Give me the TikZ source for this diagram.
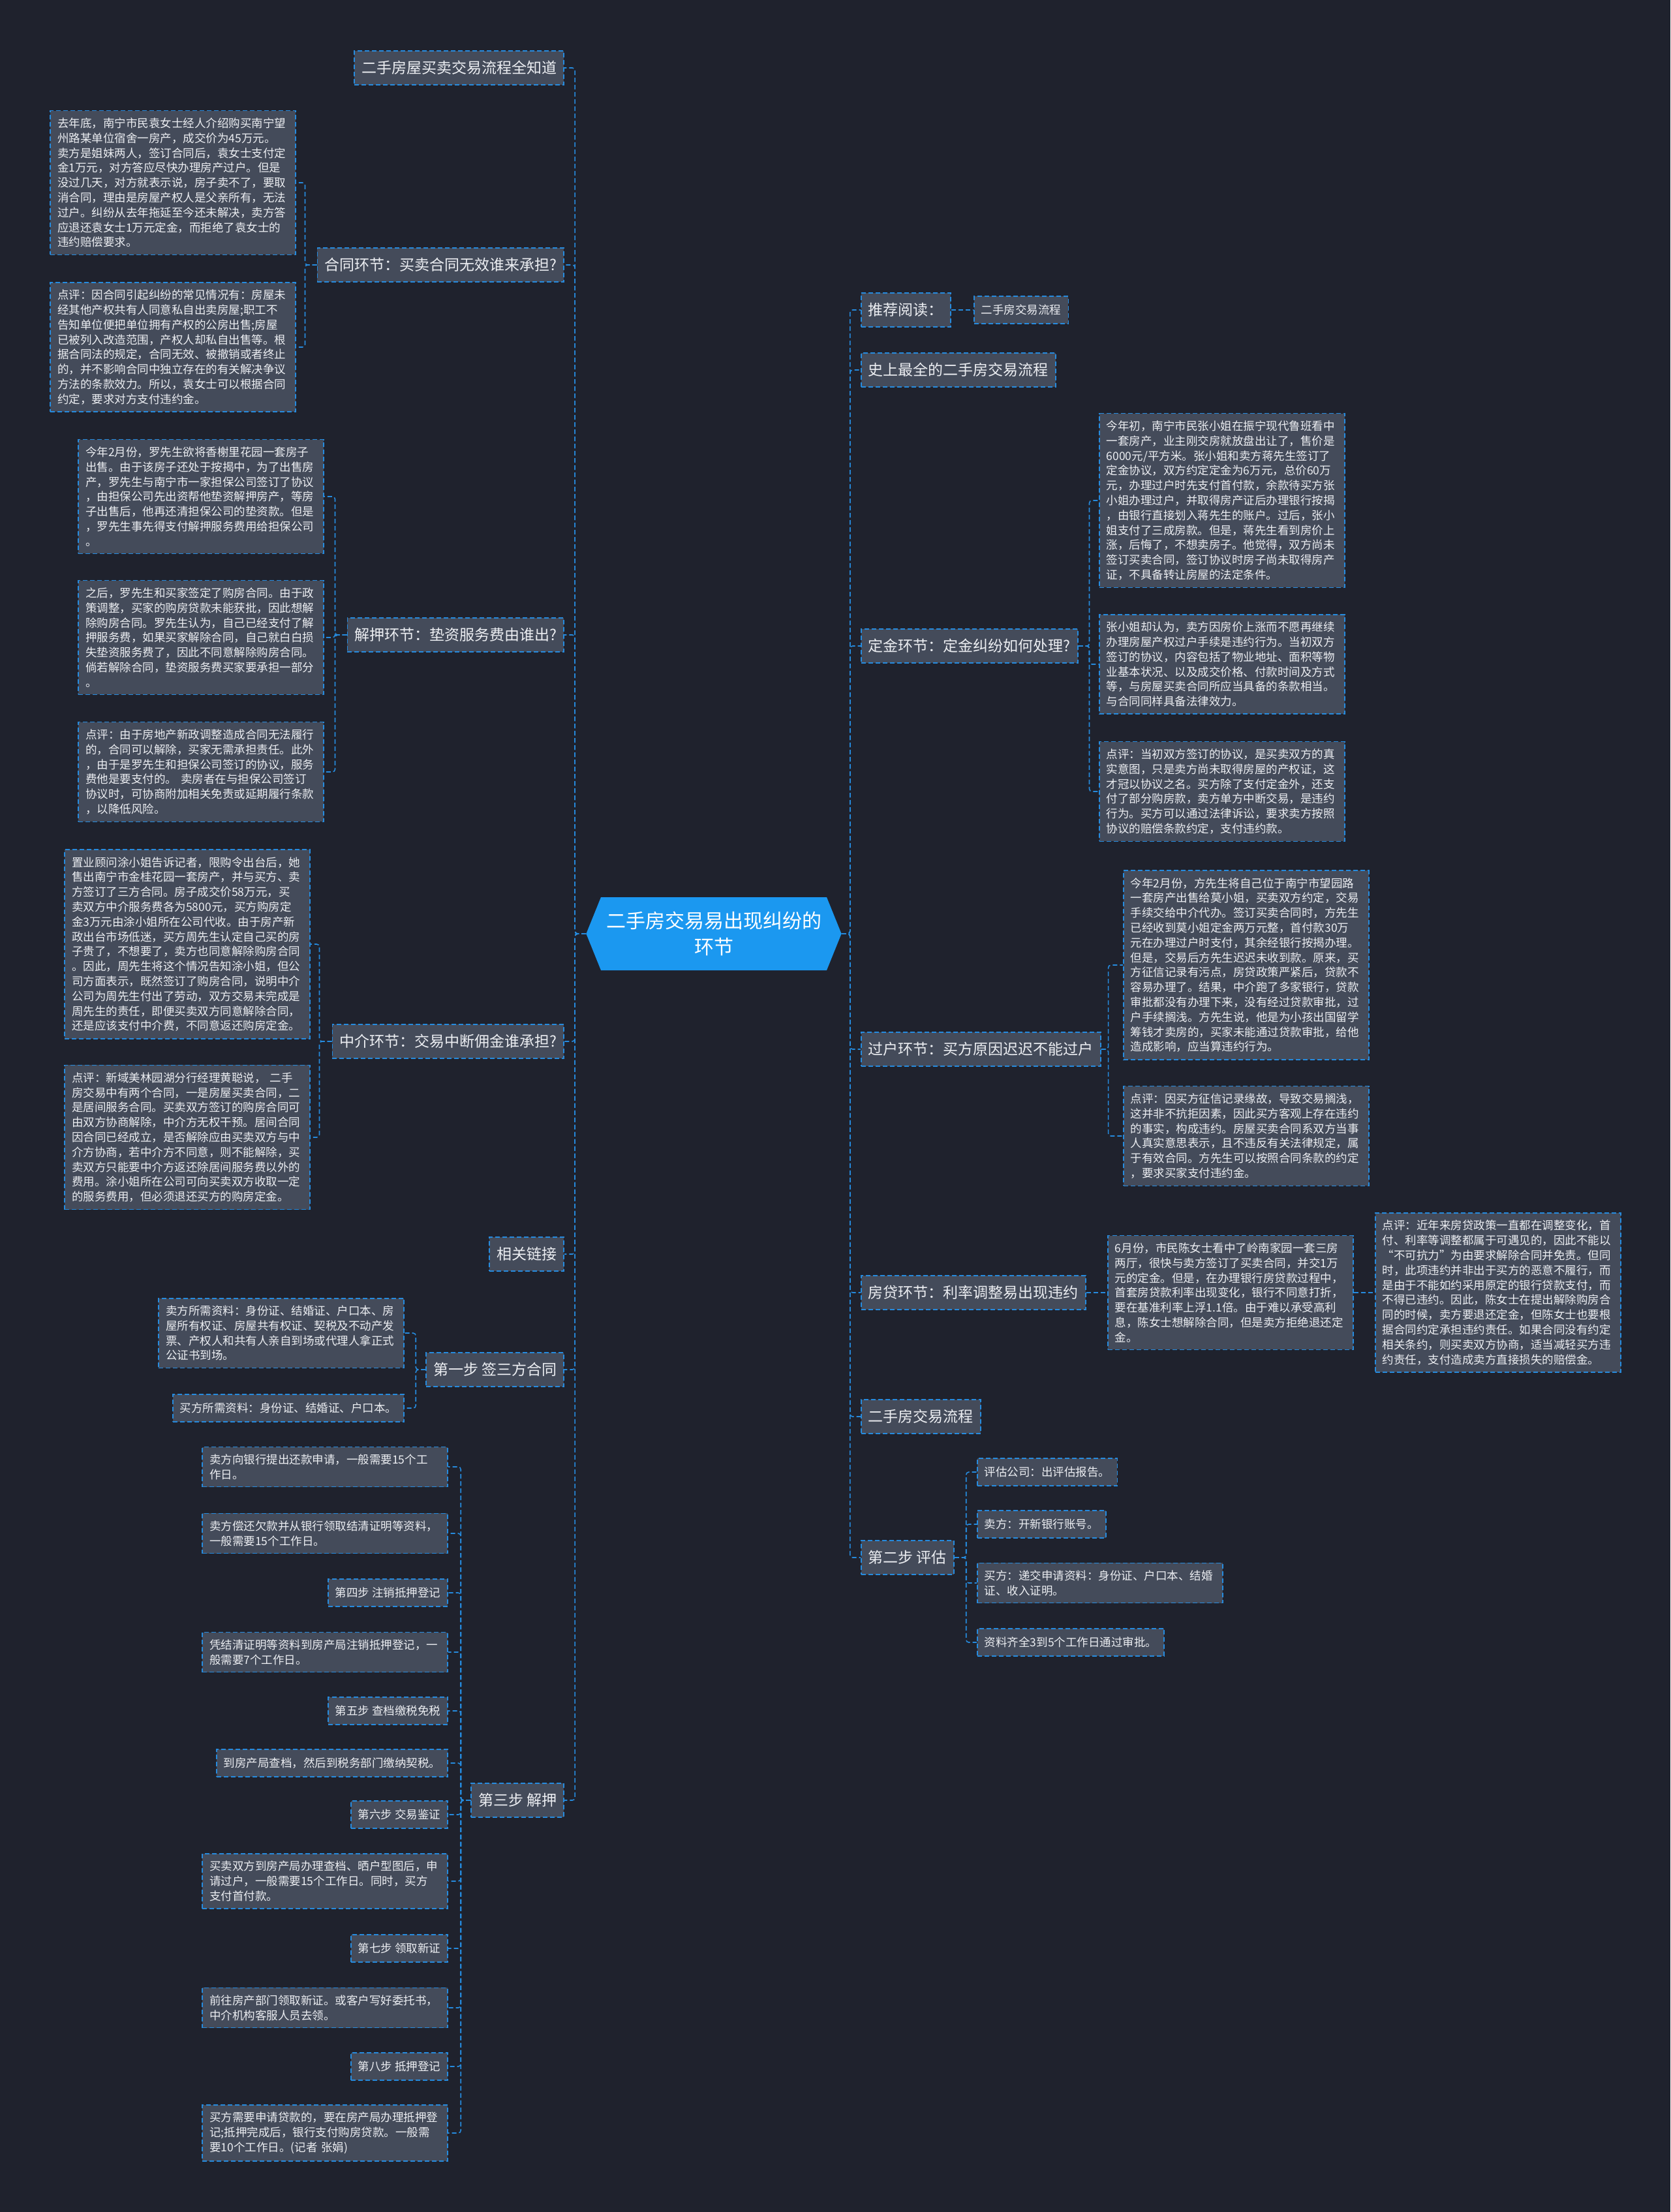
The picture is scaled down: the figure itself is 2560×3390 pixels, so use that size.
\documentclass[tikz,border=0pt]{standalone}
\usepackage{fontspec}
\setmainfont{Noto Sans CJK SC}
\usepackage{tikz}
\usetikzlibrary{positioning, shapes.symbols}
\usepackage{xcolor}
\definecolor{bgdark}{RGB}{31, 34, 45}
\definecolor{boxgray}{RGB}{68, 75, 90}
\definecolor{edgeblue}{RGB}{38, 139, 222}
\definecolor{hubblue}{RGB}{27, 152, 240}
\definecolor{inkwhite}{RGB}{236, 238, 242}

\begin{document}
\begin{tikzpicture}[x=1pt, y=-1pt,
    hub/.style={signal, signal to=west and east, signal pointer angle=136, fill=hubblue, text=white, align=center, inner xsep=8pt, inner ysep=12pt, minimum height=112pt, font=\fontsize{30}{40}\selectfont},
    box/.style={rectangle, draw=edgeblue, fill=boxgray, dash pattern=on 7pt off 4pt, line width=1.6pt, text=inkwhite, inner xsep=11pt},
    topic/.style={box, minimum height=52pt, font=\fontsize{23}{28}\selectfont},
    leaf/.style={box, inner ysep=11pt, text width=354pt, align=left, font=\fontsize{17.5}{22.8}\selectfont},
    tag/.style={box, minimum height=42pt, font=\fontsize{17.5}{22.8}\selectfont},
    link/.style={draw=edgeblue, dash pattern=on 7pt off 4pt, line width=1.6pt, rounded corners=4pt}
]
    \useasboundingbox[fill=bgdark] (0, 0) rectangle (2560, 3390);

    % Centre
    \node[hub] (root) at (1094, 1431) {二手房交易易出现纠纷的\\环节};

    % Left topics
    \node[topic, anchor=east] (know) at (865, 104) {二手房屋买卖交易流程全知道};
    \node[topic, anchor=east] (hetong) at (865, 406) {合同环节：买卖合同无效谁来承担?};
    \node[topic, anchor=east] (jieya) at (865, 973) {解押环节：垫资服务费由谁出?};
    \node[topic, anchor=east] (zhongjie) at (865, 1596) {中介环节：交易中断佣金谁承担?};
    \node[topic, anchor=east] (xglj) at (865, 1922) {相关链接};
    \node[topic, anchor=east] (step1) at (865, 2099) {第一步 签三方合同};
    \node[topic, anchor=east] (step3) at (865, 2759) {第三步 解押};

    % Right topics
    \node[topic, anchor=west] (tuijian) at (1319, 475) {推荐阅读：};
    \node[topic, anchor=west] (shishang) at (1319, 567) {史上最全的二手房交易流程};
    \node[topic, anchor=west] (dingjin) at (1319, 990) {定金环节：定金纠纷如何处理?};
    \node[topic, anchor=west] (guohu) at (1319, 1608) {过户环节：买方原因迟迟不能过户};
    \node[topic, anchor=west] (fangdai) at (1319, 1981) {房贷环节：利率调整易出现违约};
    \node[topic, anchor=west] (liucheng) at (1319, 2171) {二手房交易流程};
    \node[topic, anchor=west] (step2) at (1319, 2387) {第二步 评估};

    % Contract leaves
    \node[leaf, anchor=east] (ht1) at (454, 280) {去年底，南宁市民袁女士经人介绍购买南宁望\\州路某单位宿舍一房产，成交价为45万元。\\卖方是姐妹两人，签订合同后，袁女士支付定\\金1万元，对方答应尽快办理房产过户。但是\\没过几天，对方就表示说，房子卖不了，要取\\消合同，理由是房屋产权人是父亲所有，无法\\过户。纠纷从去年拖延至今还未解决，卖方答\\应退还袁女士1万元定金，而拒绝了袁女士的\\违约赔偿要求。};
    \node[leaf, anchor=east] (ht2) at (454, 532) {点评：因合同引起纠纷的常见情况有：房屋未\\经其他产权共有人同意私自出卖房屋;职工不\\告知单位便把单位拥有产权的公房出售;房屋\\已被列入改造范围，产权人却私自出售等。根\\据合同法的规定，合同无效、被撤销或者终止\\的，并不影响合同中独立存在的有关解决争议\\方法的条款效力。所以，袁女士可以根据合同\\约定，要求对方支付违约金。};

    % Mortgage release leaves
    \node[leaf, anchor=east] (jy1) at (497, 761) {今年2月份，罗先生欲将香榭里花园一套房子\\出售。由于该房子还处于按揭中，为了出售房\\产，罗先生与南宁市一家担保公司签订了协议\\，由担保公司先出资帮他垫资解押房产，等房\\子出售后，他再还清担保公司的垫资款。但是\\，罗先生事先得支付解押服务费用给担保公司\\。};
    \node[leaf, anchor=east] (jy2) at (497, 977) {之后，罗先生和买家签定了购房合同。由于政\\策调整，买家的购房贷款未能获批，因此想解\\除购房合同。罗先生认为，自己已经支付了解\\押服务费，如果买家解除合同，自己就白白损\\失垫资服务费了，因此不同意解除购房合同。\\倘若解除合同，垫资服务费买家要承担一部分\\。};
    \node[leaf, anchor=east] (jy3) at (497, 1183) {点评：由于房地产新政调整造成合同无法履行\\的，合同可以解除，买家无需承担责任。此外\\，由于是罗先生和担保公司签订的协议，服务\\费他是要支付的。 卖房者在与担保公司签订\\协议时，可协商附加相关免责或延期履行条款\\，以降低风险。};

    % Agency leaves
    \node[leaf, anchor=east] (zj1) at (476, 1447) {置业顾问涂小姐告诉记者，限购令出台后，她\\售出南宁市金桂花园一套房产，并与买方、卖\\方签订了三方合同。房子成交价58万元，买\\卖双方中介服务费各为5800元，买方购房定\\金3万元由涂小姐所在公司代收。由于房产新\\政出台市场低迷，买方周先生认定自己买的房\\子贵了，不想要了，卖方也同意解除购房合同\\。因此，周先生将这个情况告知涂小姐，但公\\司方面表示，既然签订了购房合同，说明中介\\公司为周先生付出了劳动，双方交易未完成是\\周先生的责任，即便买卖双方同意解除合同，\\还是应该支付中介费，不同意返还购房定金。};
    \node[leaf, anchor=east] (zj2) at (476, 1743) {点评：新域美林园湖分行经理黄聪说， 二手\\房交易中有两个合同，一是房屋买卖合同，二\\是居间服务合同。买卖双方签订的购房合同可\\由双方协商解除，中介方无权干预。居间合同\\因合同已经成立，是否解除应由买卖双方与中\\介方协商，若中介方不同意，则不能解除，买\\卖双方只能要中介方返还除居间服务费以外的\\费用。涂小姐所在公司可向买卖双方收取一定\\的服务费用，但必须退还买方的购房定金。};

    % Step one leaves
    \node[leaf, anchor=east] (s1a) at (620, 2043) {卖方所需资料：身份证、结婚证、户口本、房\\屋所有权证、房屋共有权证、契税及不动产发\\票、产权人和共有人亲自到场或代理人拿正式\\公证书到场。};
    \node[tag, anchor=east] (s1b) at (620, 2158) {买方所需资料：身份证、结婚证、户口本。};

    % Step three leaves
    \node[leaf, anchor=east] (s3a) at (687, 2248) {卖方向银行提出还款申请，一般需要15个工\\作日。};
    \node[leaf, anchor=east] (s3b) at (687, 2350) {卖方偿还欠款并从银行领取结清证明等资料，\\一般需要15个工作日。};
    \node[tag, anchor=east] (s3c) at (687, 2441) {第四步 注销抵押登记};
    \node[leaf, anchor=east] (s3d) at (687, 2532) {凭结清证明等资料到房产局注销抵押登记，一\\般需要7个工作日。};
    \node[tag, anchor=east] (s3e) at (687, 2622) {第五步 查档缴税免税};
    \node[tag, anchor=east] (s3f) at (687, 2702) {到房产局查档，然后到税务部门缴纳契税。};
    \node[tag, anchor=east] (s3g) at (687, 2781) {第六步 交易鉴证};
    \node[leaf, anchor=east] (s3h) at (687, 2883) {买卖双方到房产局办理查档、晒户型图后，申\\请过户，一般需要15个工作日。同时，买方\\支付首付款。};
    \node[tag, anchor=east] (s3i) at (687, 2986) {第七步 领取新证};
    \node[leaf, anchor=east] (s3j) at (687, 3077) {前往房产部门领取新证。或客户写好委托书，\\中介机构客服人员去领。};
    \node[tag, anchor=east] (s3k) at (687, 3167) {第八步 抵押登记};
    \node[leaf, anchor=east] (s3l) at (687, 3269) {买方需要申请贷款的，要在房产局办理抵押登\\记;抵押完成后，银行支付购房贷款。一般需\\要10个工作日。(记者 张娟)};

    % Reading tip
    \node[tag, anchor=west] (tjsub) at (1492, 475) {二手房交易流程};

    % Deposit leaves
    \node[leaf, anchor=west] (dj1) at (1684, 767) {今年初，南宁市民张小姐在振宁现代鲁班看中\\一套房产，业主刚交房就放盘出让了，售价是\\6000元/平方米。张小姐和卖方蒋先生签订了\\定金协议，双方约定定金为6万元，总价60万\\元，办理过户时先支付首付款，余款待买方张\\小姐办理过户，并取得房产证后办理银行按揭\\，由银行直接划入蒋先生的账户。过后，张小\\姐支付了三成房款。但是，蒋先生看到房价上\\涨，后悔了，不想卖房子。他觉得，双方尚未\\签订买卖合同，签订协议时房子尚未取得房产\\证，不具备转让房屋的法定条件。};
    \node[leaf, anchor=west] (dj2) at (1684, 1018) {张小姐却认为，卖方因房价上涨而不愿再继续\\办理房屋产权过户手续是违约行为。当初双方\\签订的协议，内容包括了物业地址、面积等物\\业基本状况、以及成交价格、付款时间及方式\\等，与房屋买卖合同所应当具备的条款相当。\\与合同同样具备法律效力。};
    \node[leaf, anchor=west] (dj3) at (1684, 1213) {点评：当初双方签订的协议，是买卖双方的真\\实意图，只是卖方尚未取得房屋的产权证，这\\才冠以协议之名。买方除了支付定金外，还支\\付了部分购房款，卖方单方中断交易，是违约\\行为。买方可以通过法律诉讼，要求卖方按照\\协议的赔偿条款约定，支付违约款。};

    % Transfer leaves
    \node[leaf, anchor=west] (gh1) at (1721, 1479) {今年2月份，方先生将自己位于南宁市望园路\\一套房产出售给莫小姐，买卖双方约定，交易\\手续交给中介代办。签订买卖合同时，方先生\\已经收到莫小姐定金两万元整，首付款30万\\元在办理过户时支付，其余经银行按揭办理。\\但是，交易后方先生迟迟未收到款。原来，买\\方征信记录有污点，房贷政策严紧后，贷款不\\容易办理了。结果，中介跑了多家银行，贷款\\审批都没有办理下来，没有经过贷款审批，过\\户手续搁浅。方先生说，他是为小孩出国留学\\筹钱才卖房的，买家未能通过贷款审批，给他\\造成影响，应当算违约行为。};
    \node[leaf, anchor=west] (gh2) at (1721, 1741) {点评：因买方征信记录缘故，导致交易搁浅，\\这并非不抗拒因素，因此买方客观上存在违约\\的事实，构成违约。房屋买卖合同系双方当事\\人真实意思表示，且不违反有关法律规定，属\\于有效合同。方先生可以按照合同条款的约定\\，要求买家支付违约金。};

    % Loan leaves
    \node[leaf, anchor=west] (fd1) at (1697, 1981) {6月份，市民陈女士看中了岭南家园一套三房\\两厅，很快与卖方签订了买卖合同，并交1万\\元的定金。但是，在办理银行房贷款过程中，\\首套房贷款利率出现变化，银行不同意打折，\\要在基准利率上浮1.1倍。由于难以承受高利\\息，陈女士想解除合同，但是卖方拒绝退还定\\金。};
    \node[leaf, anchor=west] (fd2) at (2107, 1981) {点评：近年来房贷政策一直都在调整变化，首\\付、利率等调整都属于可遇见的，因此不能以\\“不可抗力”为由要求解除合同并免责。但同\\时，此项违约并非出于买方的恶意不履行，而\\是由于不能如约采用原定的银行贷款支付，而\\不得已违约。因此，陈女士在提出解除购房合\\同的时候，卖方要退还定金，但陈女士也要根\\据合同约定承担违约责任。如果合同没有约定\\相关条约，则买卖双方协商，适当减轻买方违\\约责任，支付造成卖方直接损失的赔偿金。};

    % Step two leaves
    \node[tag, anchor=west] (s2a) at (1497, 2256) {评估公司：出评估报告。};
    \node[tag, anchor=west] (s2b) at (1497, 2336) {卖方：开新银行账号。};
    \node[leaf, anchor=west] (s2c) at (1497, 2426) {买方：递交申请资料：身份证、户口本、结婚\\证、收入证明。};
    \node[tag, anchor=west] (s2d) at (1497, 2517) {资料齐全3到5个工作日通过审批。};

    % Centre to topics
    \foreach \t in {know, hetong, jieya, zhongjie, xglj, step1, step3} {
        \draw[link] (root.west) -- ++(-17, 0) |- (\t.east);
    }
    \foreach \t in {tuijian, shishang, dingjin, guohu, fangdai, liucheng, step2} {
        \draw[link] (root.east) -- ++(13, 0) |- (\t.west);
    }

    % Topics to leaves, left
    \foreach \l in {ht1, ht2} {
        \draw[link] (hetong.west) -- ++(-18, 0) |- (\l.east);
    }
    \foreach \l in {jy1, jy2, jy3} {
        \draw[link] (jieya.west) -- ++(-18, 0) |- (\l.east);
    }
    \foreach \l in {zj1, zj2} {
        \draw[link] (zhongjie.west) -- ++(-19, 0) |- (\l.east);
    }
    \foreach \l in {s1a, s1b} {
        \draw[link] (step1.west) -- ++(-15, 0) |- (\l.east);
    }
    \foreach \l in {s3a, s3b, s3c, s3d, s3e, s3f, s3g, s3h, s3i, s3j, s3k, s3l} {
        \draw[link] (step3.west) -- ++(-15, 0) |- (\l.east);
    }

    % Topics to leaves, right
    \draw[link] (tuijian.east) -- (tjsub.west);
    \foreach \l in {dj1, dj2, dj3} {
        \draw[link] (dingjin.east) -- ++(17, 0) |- (\l.west);
    }
    \foreach \l in {gh1, gh2} {
        \draw[link] (guohu.east) -- ++(11, 0) |- (\l.west);
    }
    \draw[link] (fangdai.east) -- (fd1.west);
    \draw[link] (fd1.east) -- (fd2.west);
    \foreach \l in {s2a, s2b, s2c, s2d} {
        \draw[link] (step2.east) -- ++(18, 0) |- (\l.west);
    }
\end{tikzpicture}
\end{document}
